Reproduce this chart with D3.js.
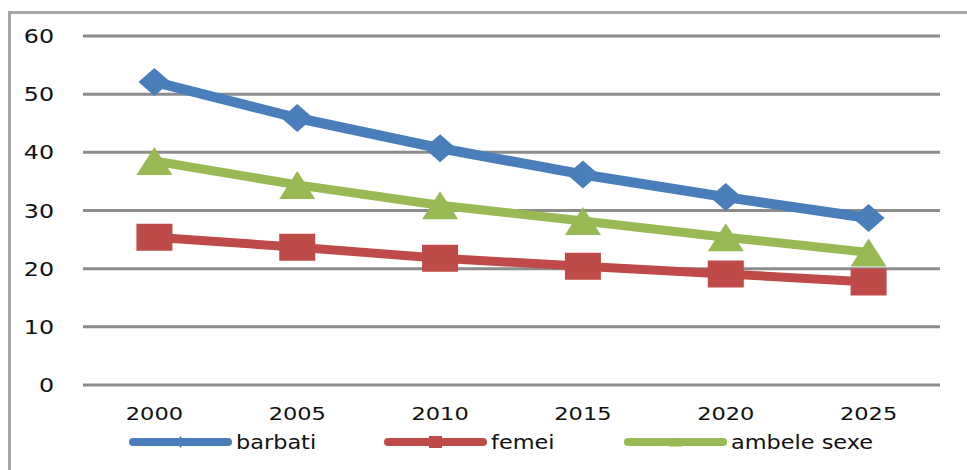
<!DOCTYPE html>
<html><head><meta charset="utf-8">
<script src="https://cdn.jsdelivr.net/npm/d3@7"></script>
<style>html,body{margin:0;padding:0;background:#fff;}svg{display:block;}</style>
</head><body>
<script>
const years = ["2000","2005","2010","2015","2020","2025"];
const barbati = [52.1, 45.9, 40.7, 36.2, 32.3, 28.7];
const femei = [25.4, 23.7, 21.8, 20.4, 19.1, 17.7];
const ambele = [38.5, 34.4, 30.9, 28.2, 25.4, 22.8];
const yTicks = [0, 10, 20, 30, 40, 50, 60];
const seriesNames = ["barbati", "femei", "ambele sexe"];
const colors = ["#4A7EBB", "#BE4B48", "#98B954"];
const shapes = ["diamond", "square", "triangle"];

const W = 967, H = 470;
const svg = d3.select("body").append("svg").attr("width", W).attr("height", H);

// frame
svg.append("path").attr("d", `M9.5,${H} V12.5 H${W}`).attr("fill","none").attr("stroke","#a6a6a6").attr("stroke-width",3);

const x = d3.scaleBand().domain(years).range([83, 940]);
const y = d3.scaleLinear().domain([0, 60]).range([385, 36]);
const SX = 1.25;

// gridlines
svg.append("g").selectAll("line").data(yTicks).join("line")
  .attr("x1", 83).attr("x2", 940)
  .attr("y1", d => y(d)).attr("y2", d => y(d))
  .attr("stroke", "#8c8c8c").attr("stroke-width", 3);

// y axis labels
svg.append("g").selectAll("text").data(yTicks).join("text")
  .attr("transform", d => `translate(54,${y(d)+7}) scale(${SX},1)`)
  .attr("text-anchor", "end")
  .attr("font-family", "DejaVu Sans").attr("font-size", 19).attr("fill", "#111")
  .text(d => d);

// x axis labels
svg.append("g").selectAll("text").data(years).join("text")
  .attr("transform", d => `translate(${x(d)+x.bandwidth()/2},420) scale(${SX},1)`)
  .attr("text-anchor", "middle")
  .attr("font-family", "DejaVu Sans").attr("font-size", 18).attr("fill", "#111")
  .text(d => d);

function marker(shape, cx, cy, w, h) {
  if (shape === "diamond") return `M${cx-w/2},${cy} L${cx},${cy-h/2} L${cx+w/2},${cy} L${cx},${cy+h/2} Z`;
  if (shape === "square") return `M${cx-w/2},${cy-h/2} h${w} v${h} h${-w} Z`;
  return `M${cx},${cy-h/2} L${cx+w/2},${cy+h/2} L${cx-w/2},${cy+h/2} Z`;
}

const allData = [barbati, femei, ambele];
const widths = [10, 9, 9];
const line = d3.line().x((d,i) => x(years[i]) + x.bandwidth()/2).y(d => y(d));
const order = [1, 2, 0];
order.forEach(k => {
  const g = svg.append("g");
  g.append("path").attr("d", line(allData[k])).attr("fill","none")
    .attr("stroke", colors[k]).attr("stroke-width", widths[k]).attr("stroke-linejoin","round");
  const sz = [[32,28],[36,27],[36,28]][k];
  g.selectAll("path.m").data(allData[k]).join("path").attr("class","m")
    .attr("d", (d,i) => marker(shapes[k], x(years[i]) + x.bandwidth()/2, y(d), sz[0], sz[1]))
    .attr("fill", colors[k]);
});

// legend
const legX = [133, 388, 628];
const lg = svg.append("g");
seriesNames.forEach((n, k) => {
  const x0 = legX[k], x1 = x0 + 95, cy = 442;
  lg.append("line").attr("x1", x0).attr("x2", x1).attr("y1", cy).attr("y2", cy)
    .attr("stroke", colors[k]).attr("stroke-width", 8).attr("stroke-linecap","round");
  const ms = [[8,12],[13,12],[13,9]][k];
  lg.append("path").attr("d", marker(shapes[k], (x0+x1)/2, cy, ms[0], ms[1])).attr("fill", colors[k]);
  lg.append("text").attr("transform", `translate(${x1+8},${cy+7}) scale(1.18,1)`)
    .attr("font-family","DejaVu Sans").attr("font-size",19).attr("fill","#111").text(n);
});
</script>
</body></html>
